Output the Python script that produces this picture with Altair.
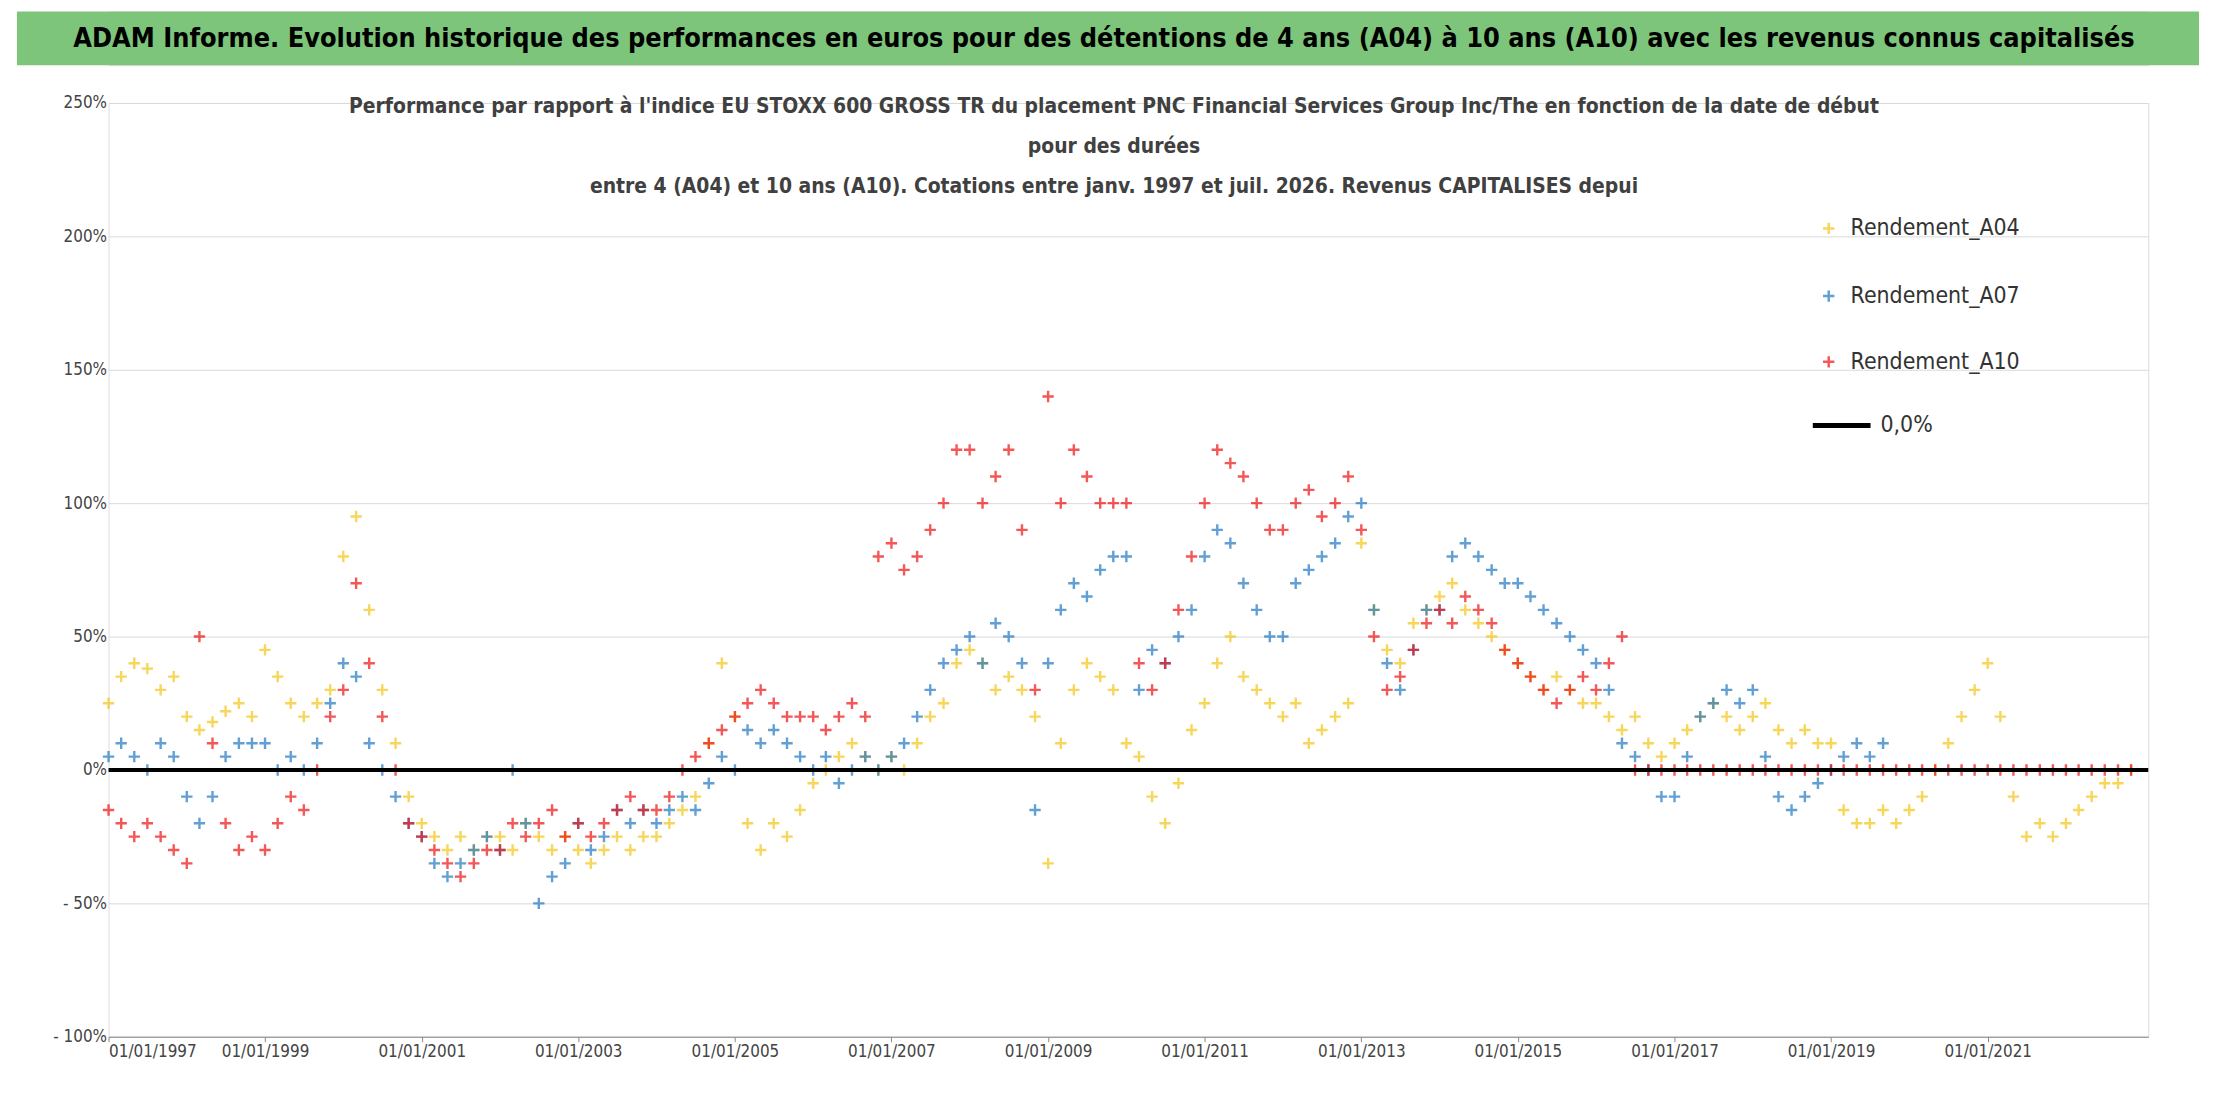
import altair as alt
import pandas as pd

# bi-monthly readings (Jan, Mar, May, Jul, Sep, Nov), in %
a04 = [25, 35, 40, 38, 30, 35,  20, 15, 18, 22, 25, 20,  45, 35, 25, 20, 25, 30,
       80, 95, 60, 30, 10, -10,  -20, -25, -30, -25, -30, -25,  -25, -30, -20, -25, -30, -25,
       -30, -35, -30, -25, -30, -25,  -25, -20, -15, -10, 10, 40,  20, -20, -30, -20, -25, -15,
       -5, 0, 5, 10, 5, 0,  5, 0, 10, 20, 25, 40,  45, 40, 30, 35, 30, 20,
       -35, 10, 30, 40, 35, 30,  10, 5, -10, -20, -5, 15,  25, 40, 50, 35, 30, 25,
       20, 25, 10, 15, 20, 25,  85, 60, 45, 40, 55, 60,  65, 70, 60, 55, 50, 45,
       40, 35, 30, 35, 30, 25,  25, 20, 15, 20, 10, 5,  10, 15, 20, 25, 20, 15,
       20, 25, 15, 10, 15, 10,  10, -15, -20, -20, -15, -20,  -15, -10, 0, 10, 20, 30,
       40, 20, -10, -25, -20, -25,  -20, -15, -10, -5, -5, 0]
a07 = [5, 10, 5, 0, 10, 5,  -10, -20, -10, 5, 10, 10,  10, 0, 5, 0, 10, 25,
       40, 35, 10, 0, -10, -20,  -25, -35, -40, -35, -30, -25,  -30, 0, -20, -50, -40, -35,
       -20, -30, -25, -15, -20, -15,  -20, -15, -10, -15, -5, 5,  0, 15, 10, 15, 10, 5,
       0, 5, -5, 0, 5, 0,  5, 10, 20, 30, 40, 45,  50, 40, 55, 50, 40, -15,
       40, 60, 70, 65, 75, 80,  80, 30, 45, 40, 50, 60,  80, 90, 85, 70, 60, 50,
       50, 70, 75, 80, 85, 95,  100, 60, 40, 30, 45, 60,  60, 80, 85, 80, 75, 70,
       70, 65, 60, 55, 50, 45,  40, 30, 10, 5, 0, -10,  -10, 5, 20, 25, 30, 25,
       30, 5, -10, -15, -10, -5,  0, 5, 10, 5, 10]
a10 = [-15, -20, -25, -20, -25, -30,  -35, 50, 10, -20, -30, -25,  -30, -20, -10, -15, 0, 20,
       30, 70, 40, 20, 0, -20,  -25, -30, -35, -40, -35, -30,  -30, -20, -25, -20, -15, -25,
       -20, -25, -20, -15, -10, -15,  -15, -10, 0, 5, 10, 15,  20, 25, 30, 25, 20, 20,
       20, 15, 20, 25, 20, 80,  85, 75, 80, 90, 100, 120,  120, 100, 110, 120, 90, 30,
       140, 100, 120, 110, 100, 100,  100, 40, 30, 40, 60, 80,  100, 120, 115, 110, 100, 90,
       90, 100, 105, 95, 100, 110,  90, 50, 30, 35, 45, 55,  60, 55, 65, 60, 55, 45,
       40, 35, 30, 25, 30, 35,  30, 40, 50,
       0, 0, 0,  0, 0, 0, 0, 0, 0,  0, 0, 0, 0, 0, 0,  0, 0, 0, 0, 0, 0,
       0, 0, 0, 0, 0, 0,  0, 0, 0, 0, 0, 0,  0, 0, 0, 0, 0, 0]

series = ["Rendement_A04", "Rendement_A07", "Rendement_A10"]
colors = ["#f5c518", "#1f77c4", "#ee1111"]

dates = pd.date_range("1997-01-01", periods=len(a04), freq="2MS")
rows = []
for name, vals in zip(series, [a04, a07, a10]):
    for d, v in zip(dates, vals):
        rows.append({"date": d, "perf": v / 100, "serie": name})
df = pd.DataFrame(rows)

FONT = "DejaVu Sans Condensed, Open Sans, sans-serif"
W, H = 2049, 938
plus = "M-1,0L1,0M0,-1L0,1"

xsc = alt.Scale(domain=[pd.Timestamp("1997-01-01").isoformat(), pd.Timestamp("2023-01-20").isoformat()])
ysc = alt.Scale(domain=[-1, 2.5], nice=False)
csc = alt.Scale(domain=series, range=colors)

pts = alt.Chart(df).mark_point(shape=plus, filled=False, size=130, strokeWidth=2.4).encode(
    x=alt.X("date:T", scale=xsc, title=None,
            axis=alt.Axis(format="%d/%m/%Y", values=[pd.Timestamp(f"{y}-01-01").isoformat() for y in range(1997, 2023, 2)],
                          labelFontSize=17, labelFont=FONT, labelColor="#444", grid=False,
                          domainColor="#888", tickColor="#888")),
    y=alt.Y("perf:Q", scale=ysc, title=None,
            axis=alt.Axis(values=[-1, -0.5, 0, 0.5, 1, 1.5, 2, 2.5], labelFontSize=17, labelFont=FONT, labelColor="#444",
                          labelExpr="datum.value < 0 ? '- ' + format(-datum.value, '.0%') : format(datum.value, '.0%')",
                          gridColor="#d9d9d9", domain=False, ticks=False)),
    color=alt.Color("serie:N", scale=csc, legend=None),
)

zero = alt.Chart(pd.DataFrame({"y": [0]})).mark_rule(color="black", strokeWidth=4).encode(y=alt.Y("y:Q", scale=ysc))

# hand-placed legend
leg = pd.DataFrame({"serie": series, "ly": [126, 194, 260]})
leg_sym = alt.Chart(leg).mark_point(shape=plus, filled=False, size=130, strokeWidth=2.5).encode(
    x=alt.value(1728), y=alt.Y("ly:Q", scale=None), color=alt.Color("serie:N", scale=csc, legend=None))
leg_lab = alt.Chart(leg).mark_text(font=FONT, fontSize=23, color="#333", align="left", baseline="middle").encode(
    text="serie:N", x=alt.value(1750), y=alt.Y("ly:Q", scale=None))
leg_line = alt.Chart(pd.DataFrame({"t": ["0,0%"]})).mark_rule(color="black", strokeWidth=5).encode(
    x=alt.value(1712), x2=alt.value(1770), y=alt.value(324))
leg_txt = alt.Chart(pd.DataFrame({"t": ["0,0%"]})).mark_text(
    font=FONT, fontSize=23, color="#333", align="left", baseline="middle").encode(
    text="t:N", x=alt.value(1780), y=alt.value(324))

title_lines = ["Performance par rapport à l'indice EU STOXX 600 GROSS TR  du placement PNC Financial Services Group Inc/The en fonction de la date de début",
               "pour des durées",
               "entre 4 (A04) et 10 ans (A10). Cotations entre janv. 1997 et juil. 2026. Revenus CAPITALISES depui"]
tdf = pd.DataFrame({"t": title_lines, "i": [0, 1, 2]})
ttl = [alt.Chart(tdf).mark_text(font=FONT, fontSize=21, fontWeight="bold", color="#404040").encode(
    text="t:N", x=alt.value(1010), y=alt.value(yy)).transform_filter(f"datum.i == {i}")
    for i, yy in [(0, 4), (1, 44), (2, 84)]]

main = alt.layer(pts, zero, leg_sym, leg_lab, leg_line, leg_txt, *ttl).properties(width=W, height=H)

hdr = alt.Chart(pd.DataFrame({"t": ["ADAM Informe. Evolution historique des performances en euros pour des détentions de 4 ans (A04) à 10 ans (A10) avec les revenus connus capitalisés"]}))
hdr_rect = hdr.mark_rect(color="#7dc57a").encode(x=alt.value(-92), x2=alt.value(2100), y=alt.value(0), y2=alt.value(54))
hdr_txt = hdr.mark_text(font=FONT, fontSize=27, fontWeight="bold", color="black").encode(
    text="t:N", x=alt.value(1000), y=alt.value(28))
header = alt.layer(hdr_rect, hdr_txt).properties(width=W, height=54)

chart = alt.vconcat(header, main, spacing=27).configure_view(stroke=None).configure(padding={"left": 8, "top": 0, "right": 8, "bottom": 8})
chart.save("out.html", embed_options={"renderer": "svg", "actions": False})
